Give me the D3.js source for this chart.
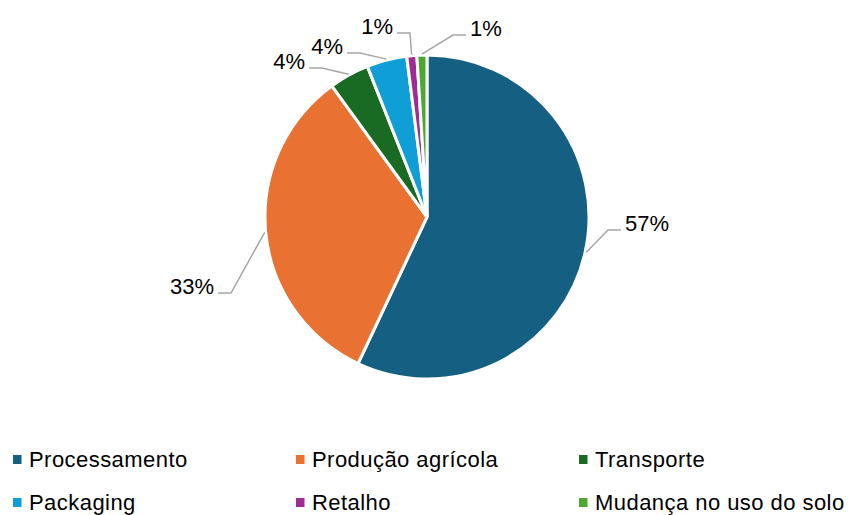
<!DOCTYPE html>
<html>
<head>
<meta charset="utf-8">
<script src="https://cdn.jsdelivr.net/npm/d3@7"></script>
<style>
  html, body { margin: 0; padding: 0; background: #fff; }
  svg { display: block; font-family: "Liberation Sans", Arial, sans-serif; }
</style>
</head>
<body>
<svg id="chart" width="850" height="515"></svg>
<script>
// Emission shares by stage of the food chain
const categories = ["Processamento", "Produção agrícola", "Transporte", "Packaging", "Retalho", "Mudança no uso do solo"];
const shares = [57, 33, 4, 4, 1, 1];
const colors = ["#156082", "#E97132", "#196B24", "#0F9ED5", "#A02B93", "#4EA72E"];

// Elbow point of each label's leader line, relative to the pie centre,
// and which side of the elbow the label text sits on.
const labelElbows = [[181, 13], [-196, 76], [-105, -149], [-67, -164], [-17, -184], [26, -182]];
const labelSides = [1, -1, -1, -1, -1, 1];

const svg = d3.select("#chart");
const cx = 427, cy = 217, radius = 162;

const data = categories.map((c, i) => ({ name: c, value: shares[i], color: colors[i] }));

const pie = d3.pie().value(d => d.value).sort(null);
const arcs = pie(data);
const arc = d3.arc().innerRadius(0).outerRadius(radius);

const g = svg.append("g").attr("transform", `translate(${cx},${cy})`);

g.selectAll("path.slice")
  .data(arcs)
  .join("path")
  .attr("class", "slice")
  .attr("d", arc)
  .attr("fill", d => d.data.color)
  .attr("stroke", "#fff")
  .attr("stroke-width", 3)
  .attr("stroke-linejoin", "miter");

// Leader lines and percentage labels
const fmt = d => `${d.data.value}%`;
arcs.forEach((a, i) => {
  const mid = (a.startAngle + a.endAngle) / 2;
  const r0 = radius + 1;
  const start = [Math.sin(mid) * r0, -Math.cos(mid) * r0];
  const elbow = labelElbows[i];
  const side = labelSides[i];
  const end = [elbow[0] + side * 13, elbow[1]];
  g.append("polyline")
    .attr("points", [start, elbow, end].map(p => p.join(",")).join(" "))
    .attr("fill", "none")
    .attr("stroke", "#A6A6A6")
    .attr("stroke-width", 1.5);
  g.append("text")
    .attr("x", end[0] + side * 4)
    .attr("y", elbow[1] - 7)
    .attr("text-anchor", side > 0 ? "start" : "end")
    .attr("dominant-baseline", "central")
    .attr("font-size", 22)
    .attr("fill", "#000")
    .text(fmt(a));
});

// Legend: three columns, two rows
const legendX = d3.scaleOrdinal().domain([0, 1, 2]).range([13, 296, 579]);
const legendY = d3.scaleOrdinal().domain([0, 1]).range([459.5, 502.5]);
const legend = svg.append("g").selectAll("g")
  .data(data)
  .join("g")
  .attr("transform", (d, i) => `translate(${legendX(i % 3)},${legendY(Math.floor(i / 3))})`);

legend.append("rect")
  .attr("x", 0).attr("y", -4.5)
  .attr("width", 8.5).attr("height", 9)
  .attr("fill", d => d.color);

legend.append("text")
  .attr("x", 16)
  .attr("y", 0)
  .attr("dominant-baseline", "central")
  .attr("font-size", 22)
  .attr("letter-spacing", 0.45)
  .attr("fill", "#000")
  .text(d => d.name);
</script>
</body>
</html>
